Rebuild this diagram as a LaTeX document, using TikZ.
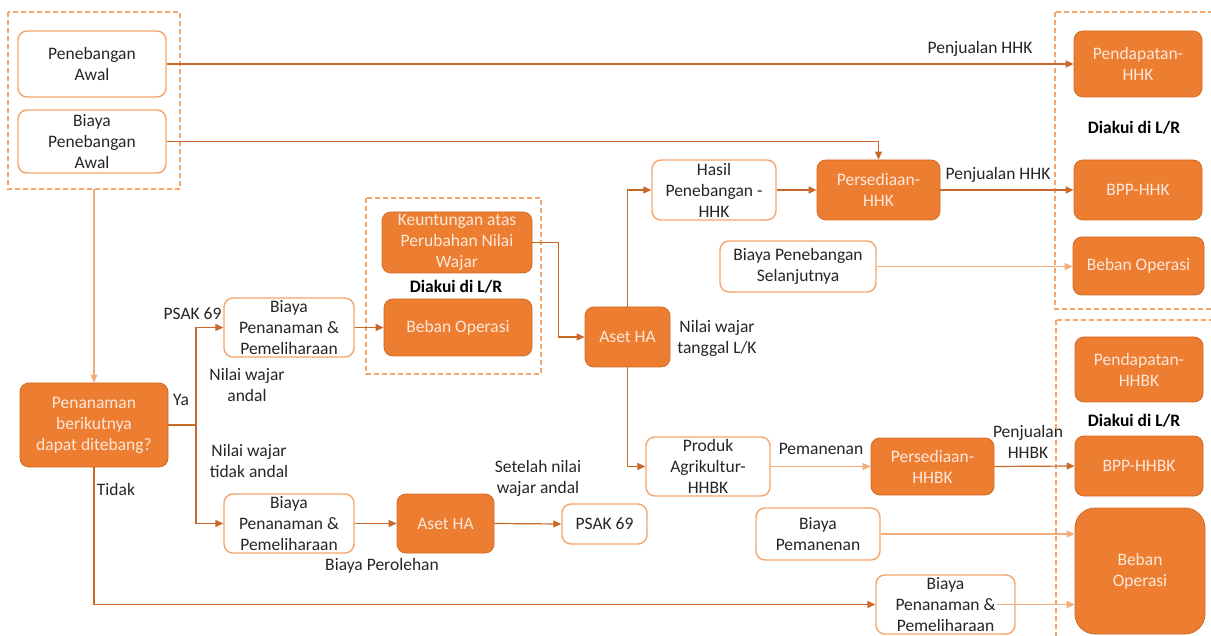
\documentclass[tikz,border=0pt]{standalone}
\usepackage{fontspec}
\setmainfont{Carlito}
\usetikzlibrary{arrows.meta}
\definecolor{orfill}{HTML}{ED7D31}
\definecolor{orborder}{HTML}{CF6A24}
\definecolor{ortext}{HTML}{FCE8DA}
\definecolor{wborder}{HTML}{F4A56C}
\definecolor{lncol}{HTML}{C8692A}
\definecolor{lnlight}{HTML}{F0AE7C}
\definecolor{dashcol}{HTML}{F4A56C}
\definecolor{txt}{HTML}{262626}
\newcommand\myfs{\fontsize{17.5}{21}\selectfont}
\tikzset{
  base/.style={rectangle, rounded corners=9pt, inner sep=0pt, align=center, font=\myfs},
  obox/.style={base, fill=orfill, draw=orborder, line width=0.8pt, text=ortext},
  wbox/.style={base, fill=white, draw=wborder, line width=1.4pt, text=txt},
  conn/.style={draw=lncol, line width=1.2pt, -{Triangle[length=8pt,width=7pt]}},
  connl/.style={draw=lnlight, line width=1.2pt, -{Triangle[length=8pt,width=7pt]}},
  plain/.style={draw=lncol, line width=1.2pt},
  dbox/.style={draw=dashcol, line width=1.3pt, dash pattern=on 5pt off 3pt},
  lbl/.style={align=center, font=\myfs, text=txt, inner sep=0pt},
  blbl/.style={align=center, font=\myfs\bfseries, text=black, inner sep=0pt}
}
\begin{document}
\begin{tikzpicture}[x=1pt,y=-1pt]
\useasboundingbox (0,0) rectangle (1211,636);
\clip (0,0) rectangle (1211,636);
\fill[white] (0,0) rectangle (1211,636);

% dashed groups
\draw[dbox] (8,12) rectangle (180,189);
\draw[dbox] (366,198) rectangle (541,374);
\draw[dbox] (1055,12) rectangle (1225,309);
\draw[dbox] (1056,320) rectangle (1225,650);

% nodes
\node[wbox, minimum width=148pt, minimum height=66pt] (pa) at (92,64) {Penebangan\\Awal};
\node[wbox, minimum width=148pt, minimum height=63pt] (bpa) at (92,141.5) {Biaya\\Penebangan\\Awal};
\node[obox, minimum width=128pt, minimum height=66pt] (phhk) at (1138,64) {Pendapatan-\\HHK};
\node[obox, minimum width=128pt, minimum height=60pt] (bpphhk) at (1138,190) {BPP-HHK};
\node[obox, minimum width=131pt, minimum height=58pt] (bo1) at (1138.5,266) {Beban Operasi};
\node[obox, minimum width=123pt, minimum height=60pt] (pershhk) at (878.5,190) {Persediaan-\\HHK};
\node[wbox, minimum width=124pt, minimum height=60pt] (hasil) at (714,190) {Hasil\\Penebangan -\\HHK};
\node[wbox, minimum width=156pt, minimum height=51pt] (bps) at (798,266.5) {Biaya Penebangan\\Selanjutnya};
\node[obox, minimum width=150pt, minimum height=61pt] (keu) at (457,242.5) {Keuntungan atas\\Perubahan Nilai\\Wajar};
\node[obox, minimum width=148pt, minimum height=57pt] (bo2) at (458,327.5) {Beban Operasi};
\node[obox, minimum width=85pt, minimum height=60pt] (aset1) at (627.5,337) {Aset HA};
\node[wbox, minimum width=124pt, minimum height=59pt] (produk) at (708,466.5) {Produk\\Agrikultur-\\HHBK};
\node[obox, minimum width=123pt, minimum height=57pt] (pershhbk) at (932.5,466.5) {Persediaan-\\HHBK};
\node[obox, minimum width=128pt, minimum height=65pt] (phhbk) at (1139,369.5) {Pendapatan-\\HHBK};
\node[obox, minimum width=128pt, minimum height=60pt] (bpphhbk) at (1139,466) {BPP-HHBK};
\node[obox, rounded corners=20pt, minimum width=130pt, minimum height=126pt] (bo3) at (1140,571) {Beban\\Operasi};
\node[wbox, minimum width=124pt, minimum height=52pt] (bpem) at (818,534) {Biaya\\Pemanenan};
\node[wbox, minimum width=139pt, minimum height=59pt] (bpp3) at (945.5,604.5) {Biaya\\Penanaman \&\\Pemeliharaan};
\node[obox, minimum width=148pt, minimum height=84pt] (pen) at (94,425) {Penanaman\\berikutnya\\dapat ditebang?};
\node[wbox, minimum width=130pt, minimum height=59pt] (bpp1) at (289,327.5) {Biaya\\Penanaman \&\\Pemeliharaan};
\node[wbox, minimum width=130pt, minimum height=59pt] (bpp2) at (289,523.5) {Biaya\\Penanaman \&\\Pemeliharaan};
\node[obox, minimum width=97pt, minimum height=59pt] (aset2) at (445.5,523.5) {Aset HA};
\node[wbox, minimum width=85pt, minimum height=40pt] (psak) at (604.5,524) {PSAK 69};

% labels
\node[lbl] (l1) at (980,49) {Penjualan HHK};
\node[lbl] (l2) at (998,175) {Penjualan HHK};
\node[blbl] (d1) at (1134,128) {Diakui di L/R};
\node[blbl] (d2) at (456,287) {Diakui di L/R};
\node[blbl] (d3) at (1134,421) {Diakui di L/R};
\node[lbl] (l3) at (717,338) {Nilai wajar\\tanggal L/K};
\node[lbl] (l4) at (821,449) {Pemanenan};
\node[lbl] (l5) at (1028,442) {Penjualan\\HHBK};
\node[lbl] (l6) at (192.5,314) {PSAK 69};
\node[lbl] (l7) at (181,400) {Ya};
\node[lbl] (l8) at (247,385) {Nilai wajar\\andal};
\node[lbl] (l9) at (249,461) {Nilai wajar\\tidak andal};
\node[lbl] (l10) at (116,489) {Tidak};
\node[lbl] (l11) at (382,566) {Biaya Perolehan};
\node[lbl] (l12) at (538,478) {Setelah nilai\\wajar andal};

% connectors
\coordinate (ldb) at (94,189);
\coordinate (split) at (196,425);
\coordinate (bpp3out) at (997,604.5);
\draw[conn] (pa.east) -- (phhk.west);
\draw[conn] (bpa.east) -| (pershhk.north);
\draw[conn] (hasil.east) -- (pershhk.west);
\draw[conn] (pershhk.east) -- (bpphhk.west);
\draw[connl] (bps.east) -- (bps.east -| bo1.west);
\draw[conn] (keu.east) -- ++(26,0) |- (aset1.west);
\draw[conn] (aset1.north) |- (hasil.west);
\draw[conn] (aset1.south) |- (produk.west);
\draw[connl] (produk.east) -- (pershhbk.west);
\draw[conn] (pershhbk.east) -- (bpphhbk.west);
\draw[connl] (bpem.east) -- (bpem.east -| bo3.west);
\draw[connl] (bpp3out) -- (bpp3out -| bo3.west);
\draw[connl] (ldb) -- (pen.north);
\draw[plain] (pen.east) -- (split);
\draw[conn] (split) |- (bpp1.west);
\draw[conn] (split) |- (bpp2.west);
\draw[conn] (bpp1.east) -- (bo2.west);
\draw[conn] (bpp2.east) -- (aset2.west);
\draw[conn] (aset2.east) -- (psak.west);
\draw[conn] (pen.south) |- (bpp3.west);
\end{tikzpicture}
\end{document}
